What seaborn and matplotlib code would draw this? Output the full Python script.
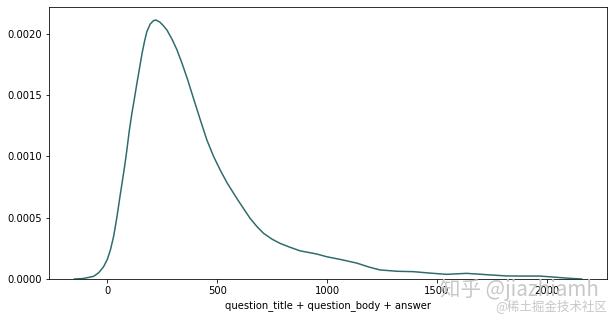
import matplotlib
matplotlib.use("Agg")
import matplotlib.pyplot as plt
import matplotlib.ticker as mticker
import seaborn as sns
import pandas as pd

# curve (text length vs density)
length = [-150, -110, -77, -62, -40, -17, 0, 14, 29, 44, 59, 67, 78, 89, 100, 112,
          124, 135, 147, 158, 170, 180, 195, 210, 221, 240, 256, 271, 295, 317, 340,
          365, 392, 423, 453, 484, 515, 545, 589, 620, 650, 680, 711, 750, 786, 830,
          877, 953, 998, 1065, 1135, 1190, 1241, 1320, 1392, 1470, 1544, 1590, 1635,
          1720, 1817, 1900, 1968, 2044, 2100, 2159]
density = [0.0, 0.000004, 0.000016, 0.000022, 0.000050, 0.000100, 0.000160, 0.000237,
           0.000350, 0.000509, 0.000690, 0.000781, 0.000910, 0.001053, 0.001210,
           0.001353, 0.001480, 0.001600, 0.001725, 0.001840, 0.001945, 0.002019,
           0.002080, 0.002108, 0.002114, 0.002095, 0.002065, 0.002033, 0.001955,
           0.001870, 0.001760, 0.001630, 0.001475, 0.001300, 0.001135, 0.000999,
           0.000885, 0.000785, 0.000659, 0.000575, 0.000495, 0.000430, 0.000373,
           0.000325, 0.000291, 0.000260, 0.000230, 0.000204, 0.000182, 0.000158,
           0.000130, 0.000098, 0.000074, 0.000063, 0.000060, 0.000048, 0.000038,
           0.000042, 0.000046, 0.000036, 0.000025, 0.000024, 0.000024, 0.000014,
           0.000006, 0.0]
x_ticks = [0, 500, 1000, 1500, 2000]
x_label = "question_title + question_body + answer"
watermark1 = "知乎 @jiazhiamh"
watermark2 = "@稀土掘金技术社区"

df = pd.DataFrame({"x": length, "density": density})

DPI = 72
fig, ax = plt.subplots(figsize=(614 / DPI, 318 / DPI), dpi=DPI)
fig.subplots_adjust(left=49/614, right=607/614, top=1-7/318, bottom=1-279/318)
sns.lineplot(data=df, x="x", y="density", ax=ax, color="#2f6a6c", linewidth=1.5)
ax.set_ylim(bottom=0)
ax.set_xlabel(x_label)
ax.set_ylabel("")
ax.set_xticks(x_ticks)
ax.yaxis.set_major_locator(mticker.MultipleLocator(0.0005))
ax.yaxis.set_major_formatter(mticker.FormatStrFormatter("%.4f"))

fig.text(440/614, 1-290/318, watermark1, fontsize=20.5, color="#c8c8c8",
         family=["Noto Sans CJK SC", "DejaVu Sans"], va="center", ha="left")
fig.text(607/614, 1-306/318, watermark2, fontsize=12.5, color="#c8c8c8",
         family=["Noto Sans CJK SC", "DejaVu Sans"], va="center", ha="right")

fig.savefig("out.png", dpi=DPI)
